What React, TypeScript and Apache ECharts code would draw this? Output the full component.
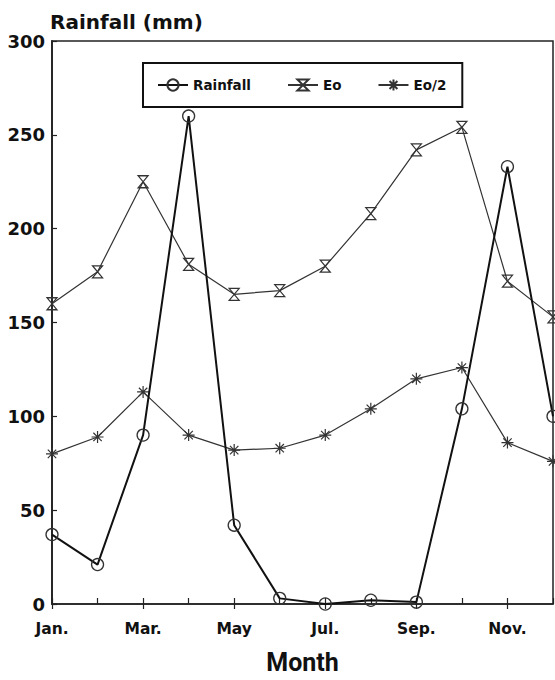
import React, { useEffect, useRef } from "react";
import * as echarts from "echarts";

const months = ["Jan.", "Feb.", "Mar.", "Apr.", "May", "Jun.", "Jul.", "Aug.", "Sep.", "Oct.", "Nov.", "Dec."];
const rainfall = [37, 21, 90, 260, 42, 3, 0, 2, 1, 104, 233, 100];
const eo = [160, 177, 225, 181, 165, 167, 180, 208, 242, 254, 172, 153];
const eoHalf = [80, 89, 113, 90, 82, 83, 90, 104, 120, 126, 86, 76];
const yTicks = { min: 0, max: 300, interval: 50 };

const HOURGLASS = "path://M0,0 L10,0 L0,12 L10,12 Z";
const ASTERISK = "path://M6,0 L6,12 M0,6 L12,6 M1.8,1.8 L10.2,10.2 M10.2,1.8 L1.8,10.2";
const BOLD = "DejaVu Sans, sans-serif";

export default function App() {
  const ref = useRef<HTMLDivElement>(null);
  useEffect(() => {
    if (!ref.current) return;
    const chart = echarts.init(ref.current, undefined, { renderer: "svg" });
    const clear = "rgba(0,0,0,0)";
    chart.setOption({
      animation: false,
      backgroundColor: "#fff",
      grid: {
        left: 52,
        right: 2,
        top: 41,
        bottom: 75,
        show: true,
        borderColor: "#222",
        borderWidth: 1.5,
        backgroundColor: "transparent",
      },
      legend: {
        left: 143,
        top: 63,
        padding: [15, 16, 15, 14],
        backgroundColor: "#fff",
        borderColor: "#111",
        borderWidth: 2,
        borderRadius: 0,
        itemWidth: 30,
        itemHeight: 14,
        itemGap: 36,
        textStyle: { fontFamily: BOLD, fontWeight: "bold", fontSize: 13.5, color: "#111" },
        data: ["Rainfall", "Eo", "Eo/2"],
      },
      xAxis: [
        {
          type: "category",
          data: months,
          boundaryGap: false,
          name: "Month",
          nameLocation: "middle",
          nameGap: 46,
          nameTextStyle: { fontFamily: "Roboto, sans-serif", fontSize: 25, color: "#111", fontWeight: "bold" },
          axisLine: { lineStyle: { color: "#222", width: 1.5 } },
          axisTick: { interval: 0, inside: true, length: 6, lineStyle: { color: "#222", width: 1.2 } },
          axisLabel: {
            interval: 1,
            margin: 17,
            fontFamily: BOLD,
            fontWeight: "bold",
            fontSize: 15.5,
            color: "#111",
          },
          splitLine: { show: false },
        },
        {
          type: "category",
          data: months,
          boundaryGap: false,
          position: "bottom",
          axisLine: { show: false },
          axisTick: { interval: 1, inside: false, length: 5, lineStyle: { color: "#222", width: 1.2 } },
          axisLabel: { show: false },
          splitLine: { show: false },
        },
      ],
      yAxis: {
        type: "value",
        min: yTicks.min,
        max: yTicks.max,
        interval: yTicks.interval,
        name: "Rainfall (mm)",
        nameLocation: "end",
        nameGap: 9,
        nameTextStyle: {
          align: "left",
          fontFamily: BOLD,
          fontWeight: "bold",
          fontSize: 20,
          color: "#111",
          padding: [0, 0, 0, -2],
        },
        axisLine: { show: true, lineStyle: { color: "#222", width: 1.8 } },
        axisTick: { show: true, inside: true, length: 5, lineStyle: { color: "#222", width: 1.2 } },
        axisLabel: { margin: 7, fontFamily: BOLD, fontWeight: "bold", fontSize: 18, color: "#111" },
        splitLine: { show: false },
      },
      series: [
        {
          name: "Eo",
          type: "line",
          data: eo,
          symbol: HOURGLASS,
          symbolSize: [10, 12],
          lineStyle: { color: "#333", width: 1.2 },
          itemStyle: { color: clear, borderColor: "#333", borderWidth: 1.2 },
          z: 2,
        },
        {
          name: "Eo/2",
          type: "line",
          data: eoHalf,
          symbol: ASTERISK,
          symbolSize: 12,
          lineStyle: { color: "#333", width: 1.2 },
          itemStyle: { color: clear, borderColor: "#333", borderWidth: 1.2 },
          z: 2,
        },
        {
          name: "Rainfall",
          type: "line",
          data: rainfall,
          symbol: "circle",
          symbolSize: 12,
          lineStyle: { color: "#111", width: 2 },
          itemStyle: { color: clear, borderColor: "#333", borderWidth: 1.3 },
          z: 3,
        },
      ],
    });
    return () => chart.dispose();
  }, []);
  return <div ref={ref} style={{ width: 555, height: 680, position: "absolute", left: 0, top: 0 }} />;
}
